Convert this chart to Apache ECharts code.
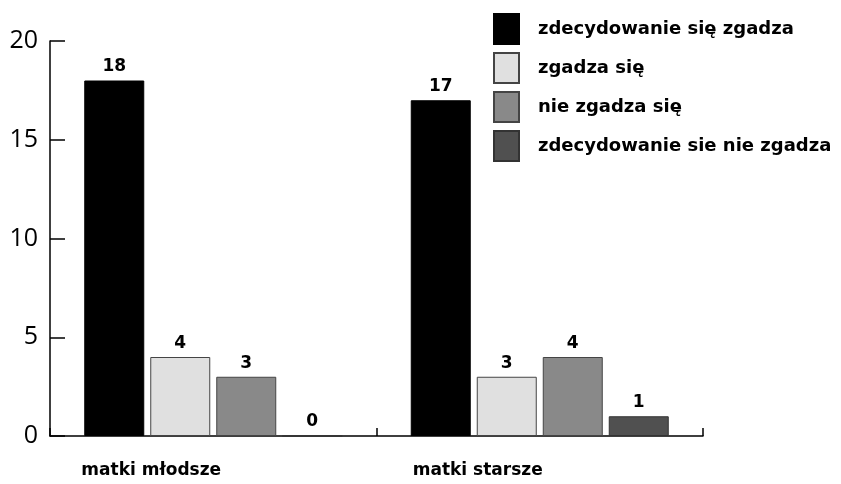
<!DOCTYPE html>
<html>
<head>
<meta charset="utf-8">
<script src="https://cdn.jsdelivr.net/npm/echarts@6/dist/echarts.min.js"></script>
<style>
  html, body { margin: 0; padding: 0; background: #fff; }
  #chart { width: 841px; height: 484px; }
</style>
</head>
<body>
<div id="chart"></div>
<script>
// dane z wykresu
const categories = ['matki młodsze', 'matki starsze'];
const seriesNames = ['zdecydowanie się zgadza', 'zgadza się', 'nie zgadza się', 'zdecydowanie sie nie zgadza'];
const strongAgree = [18, 17];
const agree = [4, 3];
const disagree = [3, 4];
const strongDisagree = [0, 1];
const yTicks = [0, 5, 10, 15, 20];

const colors = ['#000000', '#e0e0e0', '#898989', '#505050'];
const borders = ['#000000', '#444444', '#444444', '#333333'];
const values = [strongAgree, agree, disagree, strongDisagree];

const boldFont = 'DejaVu Sans';

const chart = echarts.init(document.getElementById('chart'));

const series = seriesNames.map((name, i) => ({
  name: name,
  type: 'bar',
  data: values[i],
  barWidth: 60,
  barGap: '10%',
  itemStyle: { color: colors[i], borderColor: borders[i], borderWidth: 1 },
  label: {
    show: true,
    position: 'top',
    distance: 5,
    color: '#000',
    fontFamily: boldFont,
    fontWeight: 'bold',
    fontSize: 17
  }
}));

chart.setOption({
  animation: false,
  backgroundColor: '#fff',
  grid: { left: 50, right: 138, top: 41, bottom: 48, containLabel: false },
  legend: {
    orient: 'vertical',
    left: 488,
    top: 8,
    itemWidth: 25,
    itemHeight: 30,
    itemGap: 7,
    icon: 'rect',
    data: seriesNames,
    textStyle: {
      color: '#000',
      fontFamily: boldFont,
      fontWeight: 'bold',
      fontSize: 18,
      padding: [0, 0, 0, 14]
    }
  },
  xAxis: {
    type: 'category',
    data: categories,
    axisLine: { lineStyle: { color: '#000', width: 1.5 } },
    axisTick: { show: true, inside: true, length: 8, lineStyle: { color: '#000', width: 1.5 } },
    axisLabel: {
      margin: 26,
      color: '#000',
      fontFamily: boldFont,
      fontWeight: 'bold',
      fontSize: 17,
      align: 'center',
      padding: [0, 124, 0, 0]
    }
  },
  yAxis: {
    type: 'value',
    min: 0,
    max: 20,
    interval: 5,
    splitLine: { show: false },
    axisLine: { show: true, lineStyle: { color: '#000', width: 1.5 } },
    axisTick: { show: true, inside: true, length: 15, lineStyle: { color: '#000', width: 1.5 } },
    axisLabel: {
      margin: 12,
      color: '#000',
      fontFamily: 'Open Sans',
      fontSize: 25,
      formatter: v => (yTicks.indexOf(v) >= 0 ? String(v) : '')
    }
  },
  series: series
});
</script>
</body>
</html>
